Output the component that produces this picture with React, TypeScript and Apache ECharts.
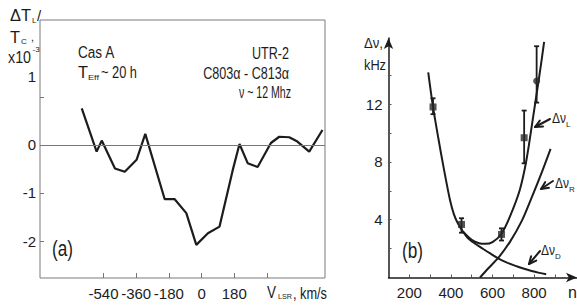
import React, { useEffect, useRef } from "react";
import * as echarts from "echarts";

const FONT = '"Liberation Sans", Arial, sans-serif';
const INK = "#1c1c1c";

// ---------- Panel (a): line profile ----------
const vLsr = [-660, -578, -550, -477, -423, -358, -310, -203, -148, -84, -29, 35, 99, 172, 209, 254, 309, 382, 428, 483, 528, 593, 666];
const dTL = [0.76, -0.14, 0.09, -0.49, -0.56, -0.31, 0.23, -1.13, -1.13, -1.42, -2.08, -1.84, -1.7, -0.52, 0.02, -0.38, -0.46, 0.04, 0.17, 0.16, 0.07, -0.14, 0.31];
const aXTicks = [-540, -360, -180, 0, 180, 360];
const aXLabels = [-540, -360, -180, 0, 180];
const aYTicks = [1, 0, -1, -2];
const aYLabelAt = [1.42, 0, -1, -2];
const aYLabels = ["1", "0", "-1", "-2"];

// ---------- Panel (b): widths vs n ----------
const nD = [291, 314, 340, 365, 395, 415, 435, 457, 480, 515, 547, 587, 627, 667, 707, 748, 788, 825, 858];
const wD = [14.2, 11.8, 9.6, 7.6, 5.4, 4.35, 3.7, 3.2, 2.75, 2.35, 2.05, 1.68, 1.33, 1.05, 0.82, 0.62, 0.45, 0.32, 0.22];
const nL = [459, 500, 535, 565, 600, 643, 683, 731, 763, 795, 827, 848];
const wL = [3.17, 2.6, 2.37, 2.33, 2.45, 3.03, 4.2, 6.06, 8.13, 11.1, 14.15, 16.3];
const nR = [540, 579, 627, 683, 740, 790, 840, 879];
const wR = [0.0, 0.62, 1.35, 2.45, 3.9, 5.6, 7.4, 8.9];
const obsN = [314, 451, 643, 752, 812];
const obsW = [11.8, 3.67, 2.98, 9.67, 13.6];
const obsLo = [11.3, 3.1, 2.56, 7.9, 12.1];
const obsHi = [12.4, 4.1, 3.4, 11.55, 16.0];
const obsShape = ["rect", "rect", "rect", "rect", "circle"];
const bXTicks = [200, 300, 400, 500, 600, 700, 800, 900];
const bXLabels = [200, 400, 600, 800];
const bYTicks = [2, 4, 6, 8, 10, 12, 14, 16];
const bYLabels = [4, 8, 12];

let measureCtx: CanvasRenderingContext2D | null = null;
function measure(text: string, size: number) {
  if (!measureCtx) measureCtx = document.createElement("canvas").getContext("2d");
  if (!measureCtx) return 0;
  measureCtx.font = `${size}px ${FONT}`;
  return measureCtx.measureText(text).width;
}

function txt(x: number, y: number, text: string, size: number, align = "left", width?: number) {
  let sx = 1;
  if (width) {
    const w = measure(text, size);
    if (w > 0) sx = width / w;
  }
  return {
    type: "text",
    x,
    y,
    scaleX: sx,
    z: 20,
    style: {
      text,
      fontSize: size,
      fontFamily: FONT,
      fill: INK,
      align,
      textAlign: align,
      verticalAlign: "middle",
      textVerticalAlign: "middle",
    },
  };
}

function arrow(x1: number, y1: number, x2: number, y2: number) {
  const th = Math.atan2(y2 - y1, x2 - x1);
  const L = 8;
  const a = (25 * Math.PI) / 180;
  const p1 = [x2 - L * Math.cos(th - a), y2 - L * Math.sin(th - a)];
  const p2 = [x2 - L * Math.cos(th + a), y2 - L * Math.sin(th + a)];
  const st = { stroke: INK, lineWidth: 2, fill: "none", lineCap: "round", lineJoin: "round" };
  return [
    { type: "line", z: 20, shape: { x1, y1, x2, y2 }, style: st },
    { type: "polyline", z: 20, shape: { points: [p1, [x2, y2], p2] }, style: st },
  ];
}

export default function App() {
  const ref = useRef<HTMLDivElement>(null);
  useEffect(() => {
    if (!ref.current) return;
    const chart = echarts.init(ref.current, undefined, { renderer: "svg" });
    const labelStyle = { fontSize: 15, fontFamily: FONT, color: INK, hideOverlap: false };
    const option: any = {
      animation: false,
      backgroundColor: "#ffffff",
      grid: [
        { left: 40, top: 20, width: 285, height: 258, show: true, borderColor: "#7a7a7a", borderWidth: 1, backgroundColor: "transparent" },
        { left: 388.5, top: 38, width: 188.5, height: 239.5, show: false },
      ],
      xAxis: [
        {
          gridIndex: 0, type: "value", min: -890, max: 680,
          axisLine: { show: false, onZero: false }, splitLine: { show: false },
          axisTick: { show: true, inside: true, length: 5, customValues: aXTicks, lineStyle: { color: "#777" } },
          axisLabel: { ...labelStyle, customValues: aXLabels, margin: 8 },
        },
        {
          gridIndex: 1, type: "value", min: 100, max: 1006,
          axisLine: { show: true, onZero: false, symbol: ["none", "arrow"], symbolSize: [7, 11], lineStyle: { color: INK, width: 1.5 } },
          splitLine: { show: false },
          axisTick: { show: true, inside: true, length: 3, customValues: bXTicks, lineStyle: { color: "#555" } },
          axisLabel: { ...labelStyle, customValues: bXLabels, margin: 7 },
        },
      ],
      yAxis: [
        {
          gridIndex: 0, type: "value", min: -2.77, max: 2.6,
          axisLine: { show: false, onZero: false }, splitLine: { show: false },
          axisTick: { show: true, inside: true, length: 4, customValues: aYTicks, lineStyle: { color: "#777" } },
          axisLabel: {
            ...labelStyle, margin: 4, customValues: aYLabelAt,
            formatter: (v: number) => {
              const i = aYLabelAt.indexOf(v);
              return i >= 0 ? aYLabels[i] : "";
            },
          },
        },
        {
          gridIndex: 1, type: "value", min: 0, max: 16.57,
          axisLine: { show: true, onZero: false, symbol: ["none", "arrow"], symbolSize: [7, 11], lineStyle: { color: INK, width: 1.5 } },
          splitLine: { show: false },
          axisTick: { show: true, inside: true, length: 3, customValues: bYTicks, lineStyle: { color: "#555" } },
          axisLabel: { ...labelStyle, customValues: bYLabels, margin: 6 },
        },
      ],
      series: [
        {
          type: "line", xAxisIndex: 0, yAxisIndex: 0,
          data: vLsr.map((v, i) => [v, dTL[i]]),
          symbol: "none", showSymbol: false,
          lineStyle: { color: INK, width: 2.2 },
          markLine: {
            silent: true, symbol: ["none", "none"], label: { show: false },
            lineStyle: { color: "#777", width: 1, type: "solid" },
            data: [{ yAxis: 0 }],
          },
        },
        {
          type: "line", xAxisIndex: 1, yAxisIndex: 1,
          data: nD.map((n, i) => [n, wD[i]]),
          symbol: "none", smooth: 0.3,
          lineStyle: { color: INK, width: 2 },
        },
        {
          type: "line", xAxisIndex: 1, yAxisIndex: 1,
          data: nL.map((n, i) => [n, wL[i]]),
          symbol: "none", smooth: 0.3,
          lineStyle: { color: INK, width: 2 },
        },
        {
          type: "line", xAxisIndex: 1, yAxisIndex: 1,
          data: nR.map((n, i) => [n, wR[i]]),
          symbol: "none", smooth: 0.3,
          lineStyle: { color: INK, width: 2 },
        },
        {
          type: "custom", xAxisIndex: 1, yAxisIndex: 1, z: 5,
          data: obsN.map((n, i) => [n, obsLo[i], obsHi[i]]),
          encode: { x: 0, y: [1, 2] },
          renderItem: (_p: any, api: any) => {
            const lo = api.coord([api.value(0), api.value(1)]);
            const hi = api.coord([api.value(0), api.value(2)]);
            const c = 2.5;
            const st = { stroke: INK, lineWidth: 1.8 };
            return {
              type: "group",
              children: [
                { type: "line", shape: { x1: lo[0], y1: lo[1], x2: hi[0], y2: hi[1] }, style: st },
                { type: "line", shape: { x1: hi[0] - c, y1: hi[1], x2: hi[0] + c, y2: hi[1] }, style: st },
                { type: "line", shape: { x1: lo[0] - c, y1: lo[1], x2: lo[0] + c, y2: lo[1] }, style: st },
              ],
            };
          },
        },
        {
          type: "scatter", xAxisIndex: 1, yAxisIndex: 1, z: 6,
          data: obsN.map((n, i) => ({ value: [n, obsW[i]], symbol: obsShape[i] })),
          symbolSize: 7,
          itemStyle: { color: "#2a2a2a" },
        },
      ],
      graphic: [
        // panel (a) axis title
        txt(10, 15, "ΔT", 16, "left", 21),
        txt(32, 20, "L", 8),
        txt(37, 15, "/", 15),
        txt(10, 37, "T", 16, "left", 10),
        txt(21, 41, "C", 8),
        txt(31, 37, ",", 11),
        txt(8, 57, "x10", 16, "left", 23),
        txt(32.5, 49, "-3", 8),
        // panel (a) annotations
        txt(78, 52, "Cas A", 17, "left", 37),
        txt(78, 72, "T", 17, "left", 10),
        txt(88, 77, "Eff", 8, "left", 11),
        txt(101, 72, "~ 20 h", 17, "left", 36),
        txt(289, 53, "UTR-2", 16, "right", 37),
        txt(289, 73, "C803α - C813α", 16, "right", 86),
        txt(291, 93, "ν ~ 12 Mhz", 16, "right", 52),
        txt(52, 248, "(a)", 22, "left", 21),
        txt(267, 293, "V", 16, "left", 9),
        txt(278, 296, "LSR", 8, "left", 14),
        txt(293, 293, ", km/s", 16, "left", 34),
        // panel (b)
        txt(364, 43, "Δν,", 15, "left", 19),
        txt(364, 65, "kHz", 15, "left", 22),
        txt(402, 250, "(b)", 22, "left", 21),
        txt(552, 118, "Δν", 14, "left", 14),
        txt(566, 124, "L", 8),
        txt(555, 183, "Δν", 14, "left", 14),
        txt(569, 189, "R", 8),
        txt(541, 250, "Δν", 14, "left", 14),
        txt(555, 256, "D", 8),
        txt(568, 292, "n", 16),
        ...arrow(550, 119, 535, 127),
        ...arrow(553, 181, 541, 189),
        ...arrow(540, 251, 529, 264),
      ],
    };
    chart.setOption(option);
    return () => chart.dispose();
  }, []);
  return (
    <div
      ref={ref}
      style={{ position: "absolute", left: 0, top: 0, width: 577, height: 308 }}
    />
  );
}
